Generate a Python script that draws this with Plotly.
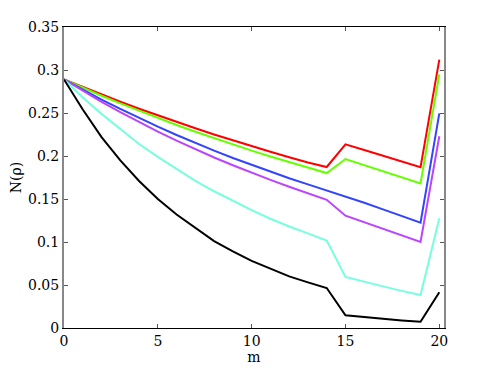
import plotly.graph_objects as go

m = list(range(21))

# N(rho), one list per curve
red = [0.289, 0.2801, 0.2715, 0.2631, 0.2550, 0.2471, 0.2395, 0.2322, 0.2250, 0.2181, 0.2114,
       0.2049, 0.1986, 0.1924, 0.1872, 0.2136, 0.2070, 0.2003, 0.1937, 0.1870, 0.312]
green = [0.289, 0.2794, 0.2701, 0.2612, 0.2525, 0.2441, 0.2360, 0.2282, 0.2206, 0.2133, 0.2062,
         0.1994, 0.1927, 0.1863, 0.1802, 0.1965, 0.1894, 0.1823, 0.1751, 0.1680, 0.295]
blue = [0.289, 0.2771, 0.2656, 0.2547, 0.2441, 0.2341, 0.2244, 0.2151, 0.2062, 0.1977, 0.1896,
        0.1817, 0.1742, 0.1670, 0.1601, 0.1535, 0.1457, 0.1380, 0.1302, 0.1225, 0.2496]
purple = [0.289, 0.2757, 0.2630, 0.2510, 0.2394, 0.2284, 0.2179, 0.2078, 0.1983, 0.1892, 0.1805,
          0.1722, 0.1642, 0.1567, 0.1490, 0.1306, 0.1230, 0.1153, 0.1077, 0.1000, 0.223]
cyan = [0.289, 0.268, 0.249, 0.231, 0.214, 0.199, 0.185, 0.171, 0.159, 0.148, 0.137,
        0.127, 0.118, 0.110, 0.1016, 0.0593, 0.0536, 0.0484, 0.0432, 0.0384, 0.1275]
black = [0.289, 0.254, 0.222, 0.195, 0.171, 0.150, 0.132, 0.116, 0.101, 0.089, 0.078,
         0.069, 0.060, 0.053, 0.0465, 0.0147, 0.0125, 0.0105, 0.0088, 0.0073, 0.0415]

series = [
    (red, '#ff0000'),
    (green, '#66ff00'),
    (blue, '#3344ff'),
    (purple, '#bb44ff'),
    (cyan, '#77ffdd'),
    (black, '#000000'),
]

fig = go.Figure()
for ys, col in series:
    fig.add_scatter(x=m, y=ys, mode='lines', line=dict(color=col, width=2), showlegend=False)

# serif font like the original
font = dict(family='DejaVu Serif', size=14, color='black')

fig.update_xaxes(
    range=[0, 20.25], tickvals=[0, 5, 10, 15, 20],
    showgrid=False, zeroline=False, automargin=False,
    showline=True, linecolor='black', linewidth=1, mirror='ticks',
    ticks='inside', ticklen=4, tickcolor='#555',
    tickfont=font, title=dict(text='m', font=font, standoff=0),
)
fig.update_yaxes(
    range=[0, 0.35], dtick=0.05,
    showgrid=False, zeroline=False, automargin=False,
    showline=True, linecolor='#888', linewidth=2, mirror='ticks',
    ticks='inside', ticklen=4, tickcolor='#555',
    tickfont=font, title=dict(text='N(ρ)', font=font, standoff=6),
)

# page body adds an 8px margin, so the figure is a bit smaller than the window
fig.update_layout(
    width=483, height=361,
    margin=dict(l=56, r=47, t=19, b=41),
    font=font,
    plot_bgcolor='white', paper_bgcolor='white',
)

fig.write_html('out.html')
